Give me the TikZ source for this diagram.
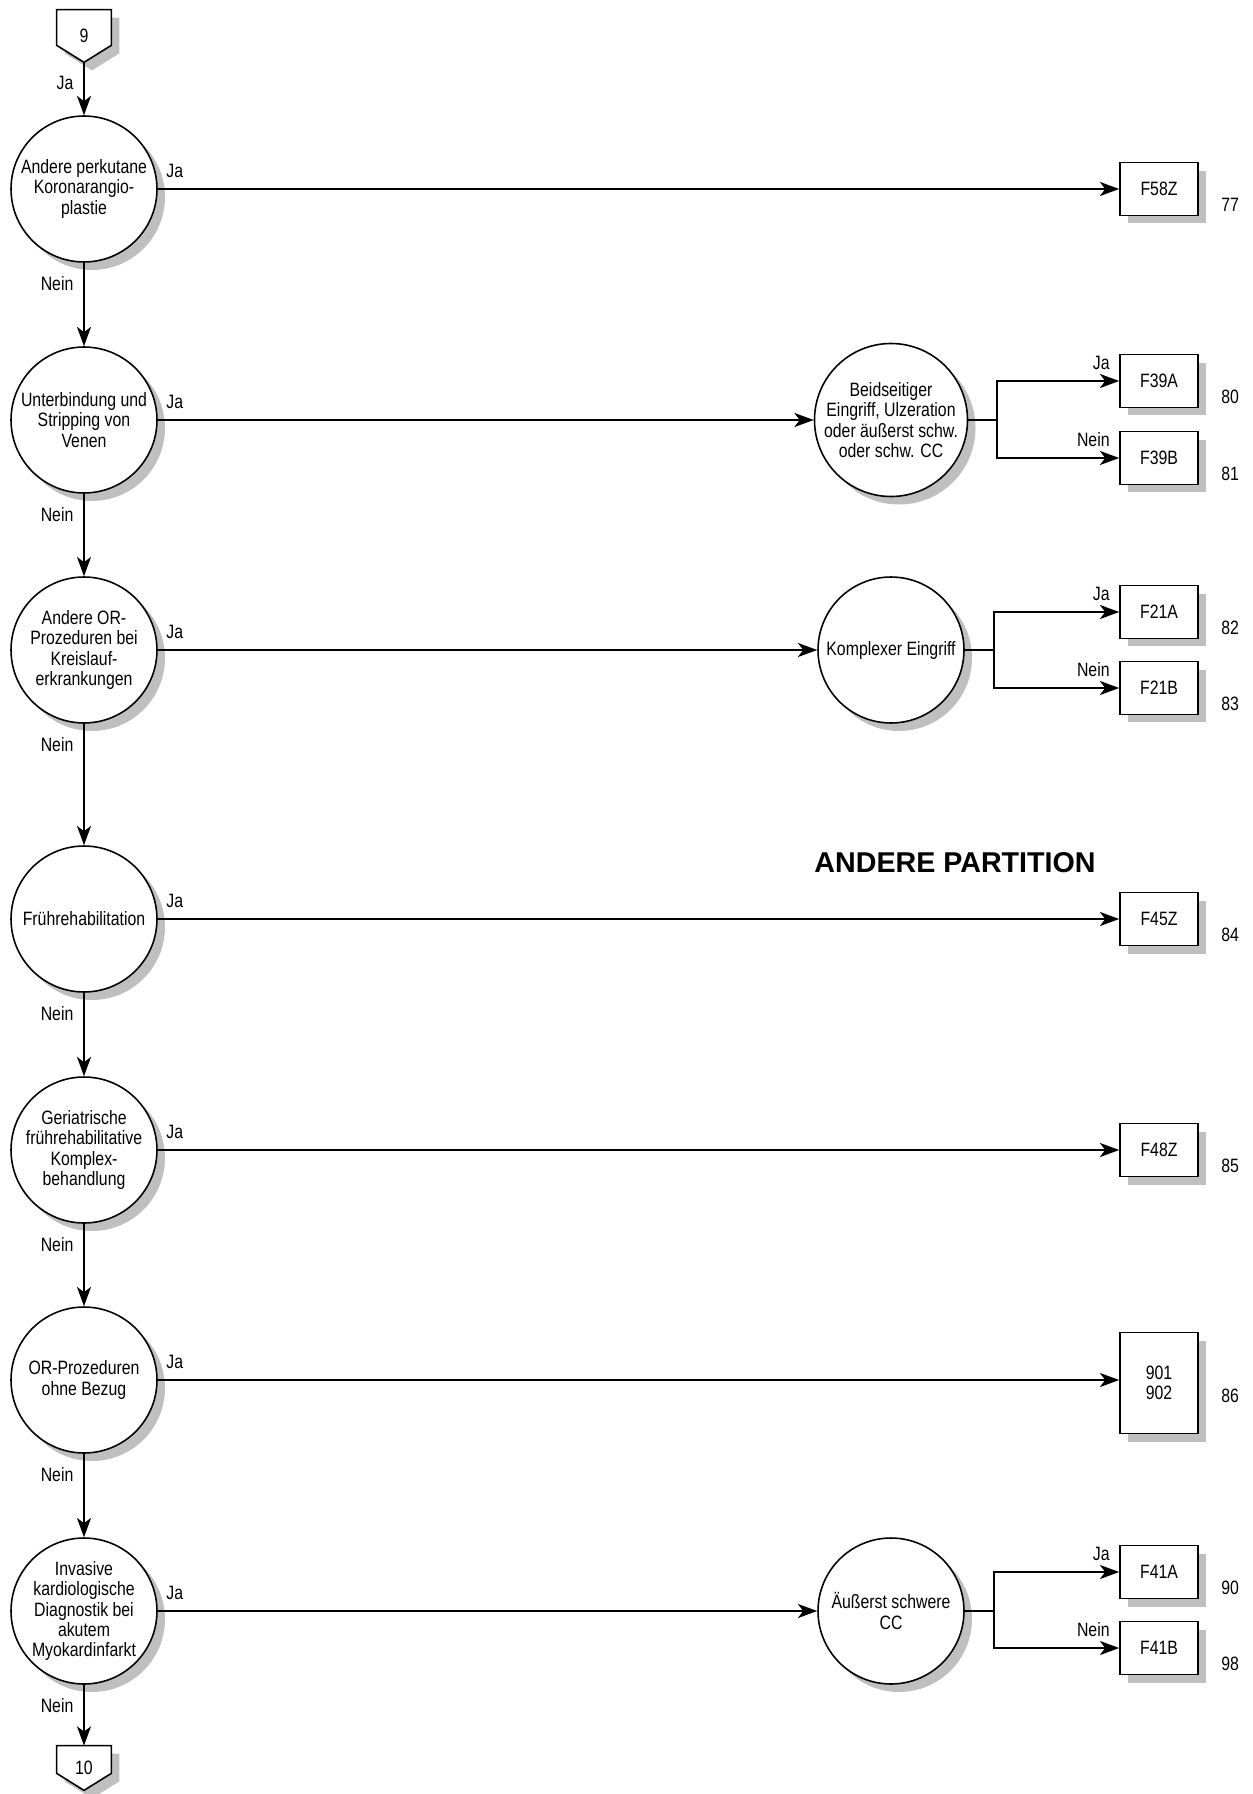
\documentclass[tikz,border=0pt]{standalone}
\usepackage{fontspec}
\setmainfont{Liberation Sans}
\newfontfamily\narrowfont[FakeStretch=0.82]{Liberation Sans}
\usepackage{tikz}
\usetikzlibrary{arrows.meta,positioning,shadows,backgrounds}

\begin{document}
\begin{tikzpicture}[
	x=0.02cm, y=-0.02cm,
	font=\narrowfont\fontsize{11}{11.5}\selectfont,
	>={Stealth[length=11pt,width=8pt,inset=3pt]},
	shadowed/.style={drop shadow={shadow xshift=0.16cm, shadow yshift=-0.16cm, fill=gray!50, opacity=1}},
	question/.style={draw, line width=0.9pt, circle, fill=white, shadowed, minimum size=2.92cm, inner sep=0pt, align=center},
	drgblock/.style={draw, line width=0.9pt, fill=white, shadowed, minimum width=1.56cm, minimum height=1.06cm, inner sep=0pt, align=center},
	pageconn/.style={minimum width=1.08cm, inner sep=0pt},
	pagebox/.style={draw, line width=0.9pt, fill=white, shadowed},
	lbl/.style={inner sep=1pt},
	numlbl/.style={inner sep=1pt},
	arrow/.style={line width=1pt,->},
	link/.style={line width=1pt}
	]
	
	\useasboundingbox (0,0) rectangle (1253,1794);
	
	% Page connectors
	\node[pageconn, minimum height=1.04cm] (p9) at (84,36) {9};
	\node[pageconn, minimum height=0.88cm] (p10) at (84,1768) {10};
	\begin{scope}[on background layer]
		\draw[pagebox] (p9.north west) -- (p9.north east) -- ([yshift=0.34cm]p9.south east) -- (p9.south) -- ([yshift=0.34cm]p9.south west) -- cycle;
		\draw[pagebox] (p10.north west) -- (p10.north east) -- ([yshift=0.34cm]p10.south east) -- (p10.south) -- ([yshift=0.34cm]p10.south west) -- cycle;
	\end{scope}
	
	% Main questions
	\node[question] (c1) at (84,189) {Andere perkutane\\Koronarangio-\\plastie};
	\node[question] (c2) at (84,420) {Unterbindung und\\Stripping von\\Venen};
	\node[question] (c3) at (84,650) {Andere OR-\\Prozeduren bei\\Kreislauf-\\erkrankungen};
	\node[question] (c4) at (84,919) {Frührehabilitation};
	\node[question] (c5) at (84,1150) {Geriatrische\\frührehabilitative\\Komplex-\\behandlung};
	\node[question] (c6) at (84,1380) {OR-Prozeduren\\ohne Bezug};
	\node[question] (c7) at (84,1611) {Invasive\\kardiologische\\Diagnostik bei\\akutem\\Myokardinfarkt};
	
	% Splitting questions
	\node[question] (k1) at (891,420) {Beidseitiger\\Eingriff, Ulzeration\\oder äußerst schw.\\oder schw. CC};
	\node[question] (k2) at (891,650) {Komplexer Eingriff};
	\node[question] (k3) at (891,1611) {Äußerst schwere\\CC};
	
	% DRGs
	\node[drgblock] (f58z) at (1159,189) {F58Z};
	\node[drgblock] (f39a) at (1159,381) {F39A};
	\node[drgblock] (f39b) at (1159,458) {F39B};
	\node[drgblock] (f21a) at (1159,612) {F21A};
	\node[drgblock] (f21b) at (1159,688) {F21B};
	\node[drgblock] (f45z) at (1159,919) {F45Z};
	\node[drgblock] (f48z) at (1159,1150) {F48Z};
	\node[drgblock, minimum height=2.02cm] (d901) at (1159,1383) {901\\902};
	\node[drgblock] (f41a) at (1159,1572) {F41A};
	\node[drgblock] (f41b) at (1159,1648) {F41B};
	
	% Numbers
	\node[numlbl, right=0.41cm of f58z, yshift=-0.32cm] (n77) {77};
	\node[numlbl, right=0.41cm of f39a, yshift=-0.32cm] (n80) {80};
	\node[numlbl, right=0.41cm of f39b, yshift=-0.32cm] (n81) {81};
	\node[numlbl, right=0.41cm of f21a, yshift=-0.32cm] (n82) {82};
	\node[numlbl, right=0.41cm of f21b, yshift=-0.32cm] (n83) {83};
	\node[numlbl, right=0.41cm of f45z, yshift=-0.32cm] (n84) {84};
	\node[numlbl, right=0.41cm of f48z, yshift=-0.32cm] (n85) {85};
	\node[numlbl, right=0.41cm of d901, yshift=-0.26cm] (n86) {86};
	\node[numlbl, right=0.41cm of f41a, yshift=-0.32cm] (n90) {90};
	\node[numlbl, right=0.41cm of f41b, yshift=-0.32cm] (n98) {98};
	
	% Partition title
	\node[font=\rmfamily\bfseries\fontsize{16.3}{19}\selectfont] (part) at (955,863) {ANDERE PARTITION};
	
	% Nein chain
	\draw[arrow] (p9) -- node[lbl, pos=0, below left=0.22cm and 0.16cm] {Ja} (c1);
	\draw[arrow] (c1) -- node[lbl, pos=0, below left=0.22cm and 0.16cm] {Nein} (c2);
	\draw[arrow] (c2) -- node[lbl, pos=0, below left=0.22cm and 0.16cm] {Nein} (c3);
	\draw[arrow] (c3) -- node[lbl, pos=0, below left=0.22cm and 0.16cm] {Nein} (c4);
	\draw[arrow] (c4) -- node[lbl, pos=0, below left=0.22cm and 0.16cm] {Nein} (c5);
	\draw[arrow] (c5) -- node[lbl, pos=0, below left=0.22cm and 0.16cm] {Nein} (c6);
	\draw[arrow] (c6) -- node[lbl, pos=0, below left=0.22cm and 0.16cm] {Nein} (c7);
	\draw[arrow] (c7) -- node[lbl, pos=0, below left=0.22cm and 0.16cm] {Nein} (p10);
	
	% Ja paths
	\draw[arrow] (c1) -- node[lbl, pos=0, above right=0.18cm and 0.12cm] {Ja} (c1 -| f58z.west);
	\draw[arrow] (c2) -- node[lbl, pos=0, above right=0.18cm and 0.12cm] {Ja} (k1);
	\draw[arrow] (c3) -- node[lbl, pos=0, above right=0.18cm and 0.12cm] {Ja} (k2);
	\draw[arrow] (c4) -- node[lbl, pos=0, above right=0.18cm and 0.12cm] {Ja} (c4 -| f45z.west);
	\draw[arrow] (c5) -- node[lbl, pos=0, above right=0.18cm and 0.12cm] {Ja} (c5 -| f48z.west);
	\draw[arrow] (c6) -- node[lbl, pos=0, above right=0.18cm and 0.12cm] {Ja} (c6 -| d901.west);
	\draw[arrow] (c7) -- node[lbl, pos=0, above right=0.18cm and 0.12cm] {Ja} (k3);
	
	% Splits
	\draw[arrow] (k1.east) -- ++(29,0) coordinate (k1b) |- node[lbl, pos=1, above left=0.18cm and 0.14cm] {Ja} (f39a);
	\draw[arrow] (k1b) |- node[lbl, pos=1, above left=0.18cm and 0.14cm] {Nein} (f39b);
	\draw[arrow] (k2.east) -- ++(29,0) coordinate (k2b) |- node[lbl, pos=1, above left=0.18cm and 0.14cm] {Ja} (f21a);
	\draw[arrow] (k2b) |- node[lbl, pos=1, above left=0.18cm and 0.14cm] {Nein} (f21b);
	\draw[arrow] (k3.east) -- ++(29,0) coordinate (k3b) |- node[lbl, pos=1, above left=0.18cm and 0.14cm] {Ja} (f41a);
	\draw[arrow] (k3b) |- node[lbl, pos=1, above left=0.18cm and 0.14cm] {Nein} (f41b);
	
\end{tikzpicture}
\end{document}
